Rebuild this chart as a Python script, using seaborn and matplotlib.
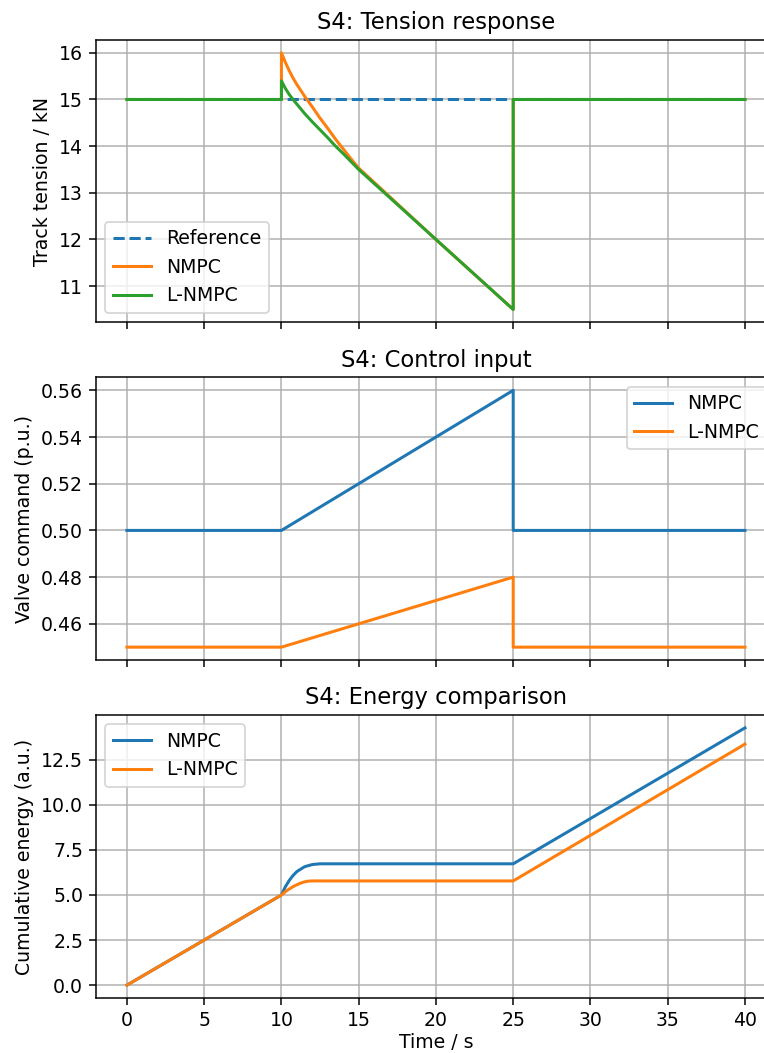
import numpy as np
import pandas as pd
import matplotlib
matplotlib.use("Agg")
import matplotlib.pyplot as plt
import seaborn as sns

# ---- data ----
t_ref = [0, 40]
tension_ref = [15.0, 15.0]

t_tension = [0, 10, 10, 10.25, 10.5, 10.75, 11, 11.5, 12, 12.5, 13, 13.5, 14, 14.5, 15, 20, 25, 25, 40]
tension_nmpc = [15.0, 15.0, 16.0, 15.8, 15.62, 15.46, 15.32, 15.07, 14.84, 14.6, 14.38, 14.15, 13.94, 13.73, 13.53, 12.0, 10.5, 15.0, 15.0]
tension_lnmpc = [15.0, 15.0, 15.4, 15.24, 15.11, 15.0, 14.9, 14.7, 14.52, 14.35, 14.18, 14.0, 13.84, 13.67, 13.5, 12.0, 10.5, 15.0, 15.0]

t_control = [0, 10, 25, 25, 40]
control_nmpc = [0.50, 0.50, 0.56, 0.50, 0.50]
control_lnmpc = [0.45, 0.45, 0.48, 0.45, 0.45]

t_energy_nmpc = [0, 10, 10.25, 10.5, 10.75, 11, 11.5, 12, 12.5, 25, 40]
energy_nmpc = [0.0, 5.0, 5.45, 5.8, 6.08, 6.3, 6.57, 6.69, 6.73, 6.73, 14.27]
t_energy_lnmpc = [0, 10, 10.25, 10.5, 10.75, 11, 11.25, 11.5, 11.75, 12, 25, 40]
energy_lnmpc = [0.0, 5.0, 5.18, 5.33, 5.46, 5.57, 5.66, 5.73, 5.77, 5.78, 5.78, 13.37]

x_ticks = [0, 5, 10, 15, 20, 25, 30, 35, 40]

C0, C1, C2 = "#1f77b4", "#ff7f0e", "#2ca02c"

plt.rcParams.update({
    "font.family": ["DejaVu Sans"],
    "font.size": 10.6,
    "axes.linewidth": 0.85,
    "grid.linewidth": 0.85,
    "xtick.major.width": 0.85,
    "ytick.major.width": 0.85,
    "xtick.major.size": 3.7,
    "ytick.major.size": 3.7,
})

fig = plt.figure(figsize=(764 / 128, 1053 / 128), dpi=128)
W, H = 764.0, 1053.0
left = 96 / W
right = 775.9 / W
panels = [(40, 322.3), (377.5, 660), (715, 998)]
axes = []
for top_px, bot_px in panels:
    ax = fig.add_axes([left, 1 - bot_px / H, right - left, (bot_px - top_px) / H])
    axes.append(ax)
ax1, ax2, ax3 = axes


def line(ax, x, y, label, color, ls="-"):
    df = pd.DataFrame({"x": x, "y": y})
    sns.lineplot(data=df, x="x", y="y", ax=ax, estimator=None, sort=False,
                 color=color, linestyle=ls, label=label, linewidth=1.7)


# Panel 1
line(ax1, t_ref, tension_ref, "Reference", C0, "--")
line(ax1, t_tension, tension_nmpc, "NMPC", C1)
line(ax1, t_tension, tension_lnmpc, "L-NMPC", C2)
ax1.set_title("S4: Tension response")
ax1.set_ylabel("Track tension / kN")
ax1.set_yticks([11, 12, 13, 14, 15, 16])
ax1.legend(loc="lower left")

# Panel 2
line(ax2, t_control, control_nmpc, "NMPC", C0)
line(ax2, t_control, control_lnmpc, "L-NMPC", C1)
ax2.set_title("S4: Control input")
ax2.set_ylabel("Valve command (p.u.)")
ax2.set_yticks([0.46, 0.48, 0.50, 0.52, 0.54, 0.56])
ax2.legend(loc="upper right")

# Panel 3
line(ax3, t_energy_nmpc, energy_nmpc, "NMPC", C0)
line(ax3, t_energy_lnmpc, energy_lnmpc, "L-NMPC", C1)
ax3.set_title("S4: Energy comparison")
ax3.set_ylabel("Cumulative energy (a.u.)")
ax3.set_yticks([0.0, 2.5, 5.0, 7.5, 10.0, 12.5])
ax3.legend(loc="upper left")

for ax in axes:
    ax.set_xlim(-2, 42)
    ax.set_xticks(x_ticks)
    ax.grid(True)
    ax.set_xlabel("")
    ax.spines["right"].set_visible(False)
for ax in (ax1, ax2):
    ax.tick_params(labelbottom=False)
ax3.set_xlabel("Time / s", labelpad=2)

fig.savefig("out.png", dpi=128)
